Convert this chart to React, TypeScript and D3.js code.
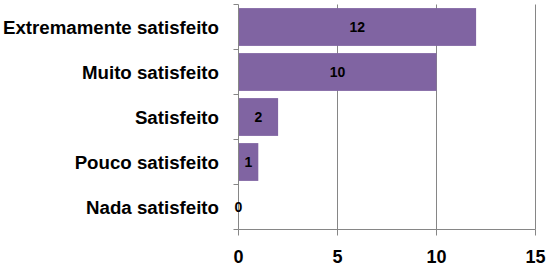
import { useRef, useEffect } from "react";
import * as d3 from "d3";

const categories = [
  "Extremamente satisfeito",
  "Muito satisfeito",
  "Satisfeito",
  "Pouco satisfeito",
  "Nada satisfeito",
];
const values = [12, 10, 2, 1, 0];
const xTicks = [0, 5, 10, 15];

const WIDTH = 548;
const HEIGHT = 270;
const FONT = "'Liberation Sans', Arial, sans-serif";

export default function App() {
  const svgRef = useRef<SVGSVGElement | null>(null);

  useEffect(() => {
    const svg = d3.select(svgRef.current);
    svg.selectAll("*").remove();

    const x = d3.scaleLinear().domain([0, 15]).range([238.5, 535.5]);
    const y = d3
      .scaleBand()
      .domain(categories)
      .range([4.5, 229.5])
      .paddingInner(0.16)
      .paddingOuter(0.08);

    const axisColor = "#868686";
    const [y0, y1] = y.range();

    // gridlines
    svg
      .selectAll("line.grid")
      .data(xTicks.filter((t) => t > 0))
      .join("line")
      .attr("class", "grid")
      .attr("x1", (d) => x(d))
      .attr("x2", (d) => x(d))
      .attr("y1", y0)
      .attr("y2", y1)
      .attr("stroke", axisColor);

    // bars
    const rows = categories.map((c, i) => ({ label: c, value: values[i] }));
    svg
      .selectAll("rect.bar")
      .data(rows)
      .join("rect")
      .attr("class", "bar")
      .attr("x", x(0))
      .attr("y", (d) => y(d.label)!)
      .attr("width", (d) => x(d.value) - x(0))
      .attr("height", y.bandwidth())
      .attr("fill", "#8064A2");

    // category axis
    svg
      .append("line")
      .attr("x1", x(0))
      .attr("x2", x(0))
      .attr("y1", y0)
      .attr("y2", y1)
      .attr("stroke", axisColor);
    svg
      .selectAll("line.ytick")
      .data(d3.range(categories.length + 1))
      .join("line")
      .attr("class", "ytick")
      .attr("x1", x(0) - 5)
      .attr("x2", x(0))
      .attr("y1", (i) => y0 + i * y.step())
      .attr("y2", (i) => y0 + i * y.step())
      .attr("stroke", axisColor);

    svg
      .selectAll("text.cat")
      .data(categories)
      .join("text")
      .attr("class", "cat")
      .attr("x", 219)
      .attr("y", (d) => y(d)! + y.bandwidth() / 2)
      .attr("dy", "0.35em")
      .attr("text-anchor", "end")
      .attr("font-family", FONT)
      .attr("font-weight", "bold")
      .attr("font-size", 18.7)
      .attr("fill", "#000")
      .text((d) => d);

    // value axis
    svg
      .append("line")
      .attr("x1", x(0))
      .attr("x2", x(15))
      .attr("y1", y1)
      .attr("y2", y1)
      .attr("stroke", axisColor);
    svg
      .selectAll("line.xtick")
      .data(xTicks)
      .join("line")
      .attr("class", "xtick")
      .attr("x1", (d) => x(d))
      .attr("x2", (d) => x(d))
      .attr("y1", y1)
      .attr("y2", y1 + 6)
      .attr("stroke", axisColor);
    svg
      .selectAll("text.xlabel")
      .data(xTicks)
      .join("text")
      .attr("class", "xlabel")
      .attr("x", (d) => x(d))
      .attr("y", 263)
      .attr("text-anchor", "middle")
      .attr("font-family", FONT)
      .attr("font-weight", "bold")
      .attr("font-size", 18)
      .attr("fill", "#000")
      .text((d) => d);

    // value labels, centred in the bar
    svg
      .selectAll("text.val")
      .data(rows)
      .join("text")
      .attr("class", "val")
      .attr("x", (d) => (x(0) + x(d.value)) / 2)
      .attr("y", (d) => y(d.label)! + y.bandwidth() / 2)
      .attr("dy", "0.35em")
      .attr("text-anchor", "middle")
      .attr("font-family", FONT)
      .attr("font-weight", "bold")
      .attr("font-size", 14)
      .attr("fill", "#000")
      .text((d) => d.value);
  }, []);

  return (
    <svg
      ref={svgRef}
      width={WIDTH}
      height={HEIGHT}
      style={{ position: "absolute", left: 0, top: 0, background: "#fff" }}
    />
  );
}
